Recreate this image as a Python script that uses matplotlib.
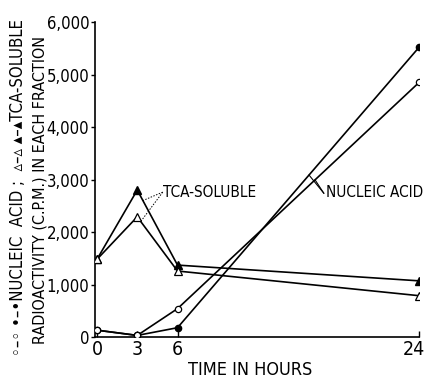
import matplotlib
matplotlib.use("Agg")
import matplotlib.pyplot as plt
import matplotlib.transforms as mtransforms
import numpy as np

# ---------- Data ----------
hours = [0, 3, 6, 24]
tca_filled = [1480, 2800, 1370, 1070]
tca_open = [1480, 2290, 1257, 787]
nucleic_filled = [130, 30, 177, 5520]
nucleic_open = [130, 30, 540, 4850]

x_ticks = [0, 3, 6, 24]
y_ticks = [0, 1000, 2000, 3000, 4000, 5000, 6000]
y_ticklabels = ["0", "1,000", "2,000", "3,000", "4,000", "5,000", "6,000"]

FONT = ["DejaVu Sans"]
plt.rcParams["font.family"] = FONT
plt.rcParams["font.stretch"] = "condensed"

fig = plt.figure(figsize=(4.25, 3.81), dpi=100)
ax = fig.add_axes([0.2235, 0.1155, 0.986 - 0.2235, 0.942 - 0.1155])

lw = 1.2
ax.plot(hours, tca_filled, color="black", lw=lw, marker="^", ms=6,
        mfc="black", mec="black", zorder=3)
ax.plot(hours, tca_open, color="black", lw=lw, marker="^", ms=6,
        mfc="white", mec="black", mew=0.9, zorder=3)
ax.plot(hours, nucleic_filled, color="black", lw=lw, marker="o", ms=4.5,
        mfc="black", mec="black", zorder=3)
ax.plot(hours, nucleic_open, color="black", lw=lw, marker="o", ms=4.5,
        mfc="white", mec="black", mew=0.9, zorder=3)

# ---------- Annotations ----------
tx, ty = 4.95, 2760
ax.text(tx, ty, "TCA-SOLUBLE", fontsize=11, ha="left", va="center")
for h, series in [(3.42, tca_filled), (3.26, tca_open)]:
    ax.plot([tx - 0.05, h], [ty, np.interp(h, hours, series)],
            color="black", lw=0.7, ls=(0, (1.5, 1.5)))

nx, ny = 17.05, 2760
ax.text(nx, ny, "NUCLEIC ACID", fontsize=11, ha="left", va="center")
for h, series in [(15.8, nucleic_filled), (16.25, nucleic_open)]:
    ax.plot([nx - 0.15, h], [ny - 20, np.interp(h, hours, series)],
            color="black", lw=0.8)

# ---------- Axes ----------
ax.set_xlim(-0.15, 24)
ax.set_ylim(0, 6000)
for s in ["top", "right"]:
    ax.spines[s].set_visible(False)
ax.spines["left"].set_linewidth(1.2)
ax.spines["bottom"].set_linewidth(1.2)

ax.set_xticks(x_ticks)
ax.set_xticklabels([str(t) for t in x_ticks], fontsize=14)
ax.set_yticks(y_ticks)
ax.set_yticklabels(y_ticklabels, fontsize=12)
ax.tick_params(axis="x", direction="in", length=4, width=1, pad=2)
ax.tick_params(axis="y", direction="out", length=3, width=1, pad=1)

# nudge the "24" label so it stays inside the picture
last = ax.get_xticklabels()[-1]
last.set_transform(last.get_transform() +
                   mtransforms.ScaledTranslation(-5 / 100, 0, fig.dpi_scale_trans))

ax.set_xlabel("TIME IN HOURS", fontsize=13, labelpad=0)
ax.xaxis.set_label_coords(0.478, -0.075)

fig.text(0.094, 0.501, "RADIOACTIVITY (C.P.M.) IN EACH FRACTION",
         rotation=90, ha="center", va="center", fontsize=11.5)
fig.text(0.043, 0.509, "\u25e6\u2013\u25e6 \u2022\u2013\u2022NUCLEIC  ACID ;  "
         "\u25b5\u2013\u25b5 \u25b4\u2013\u25b4TCA-SOLUBLE",
         rotation=90, ha="center", va="center", fontsize=12)

fig.savefig("out.png", dpi=100)
